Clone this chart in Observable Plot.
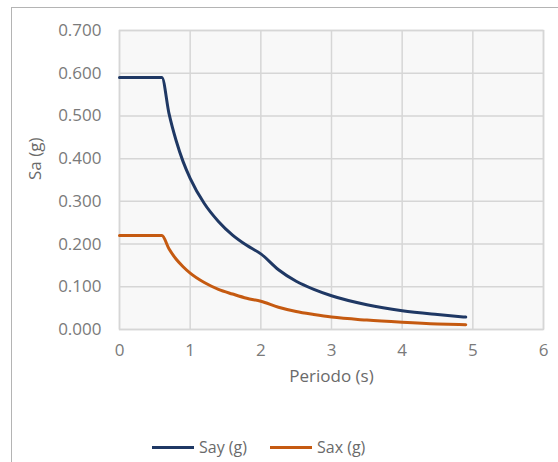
<!DOCTYPE html>
<html>
<head>
<meta charset="utf-8">
<script src="https://cdn.jsdelivr.net/npm/d3@7"></script>
<script src="https://cdn.jsdelivr.net/npm/@observablehq/plot@0.6"></script>
<style>
  html, body { margin: 0; padding: 0; background: #fff; }
  body { width: 558px; height: 462px; position: relative; overflow: hidden; font-family: "Open Sans", Lato, sans-serif; }
  #border { position: absolute; left: 11px; top: 7px; right: -2px; bottom: -2px; border-left: 1.5px solid #b4b4b4; border-top: 1.5px solid #b4b4b4; }
  #chart { position: absolute; left: 0; top: 0; }
  #legend { position: absolute; left: 152px; top: 436px; display: flex; align-items: center; font-size: 16px; color: #6a6a6a; }
  .item { display: flex; align-items: center; margin-right: 23px; }
  .swatch { width: 42px; height: 3px; margin-right: 5px; }
</style>
</head>
<body>
<div id="border"></div>
<div id="chart"></div>
<div id="legend"></div>
<script>
const periods = [0, 0.6, 0.7, 0.8, 0.9, 1.0, 1.2, 1.4, 1.6, 1.8, 2.0, 2.25, 2.5, 2.75, 3.0, 3.5, 4.0, 4.5, 4.9];
const say = [0.590, 0.590, 0.506, 0.443, 0.393, 0.354, 0.295, 0.253, 0.221, 0.197, 0.177, 0.140, 0.113, 0.094, 0.079, 0.058, 0.044, 0.035, 0.029];
const sax = [0.220, 0.220, 0.189, 0.165, 0.147, 0.132, 0.110, 0.094, 0.083, 0.073, 0.066, 0.052, 0.042, 0.035, 0.029, 0.022, 0.017, 0.013, 0.011];
const seriesNames = ["Say (g)", "Sax (g)"];
const seriesColors = ["#1f3864", "#c55a11"];
const xTicks = [0, 1, 2, 3, 4, 5, 6];
const yTicks = [0, 0.1, 0.2, 0.3, 0.4, 0.5, 0.6, 0.7];
const xTitle = "Periodo (s)";
const yTitle = "Sa (g)";

const rows = [];
periods.forEach((t, i) => {
  rows.push({T: t, Sa: say[i], s: seriesNames[0]});
  rows.push({T: t, Sa: sax[i], s: seriesNames[1]});
});

const plot = Plot.plot({
  width: 558,
  height: 410,
  marginLeft: 119,
  marginRight: 15,
  marginTop: 30,
  marginBottom: 81,
  style: {fontFamily: "'Open Sans', Lato, sans-serif", fontSize: "17px", color: "#7a7a7a", background: "transparent"},
  x: {domain: [0, 6], ticks: xTicks},
  y: {domain: [0, 0.7], ticks: yTicks},
  color: {domain: seriesNames, range: seriesColors},
  marks: [
    Plot.frame({fill: "#f8f8f8", stroke: "none"}),
    Plot.gridX(xTicks, {stroke: "#d6d6d6", strokeOpacity: 1, strokeWidth: 1.5}),
    Plot.gridY(yTicks, {stroke: "#d6d6d6", strokeOpacity: 1, strokeWidth: 1.5}),
    Plot.frame({stroke: "#d6d6d6", strokeWidth: 1.5}),
    Plot.axisX(xTicks, {tickSize: 0, tickPadding: 14, label: null, fill: "#7a7a7a", fontSize: 17}),
    Plot.axisY(yTicks, {tickSize: 0, tickPadding: 18, label: null, tickFormat: d3.format(".3f"), fill: "#7a7a7a", fontSize: 17}),
    Plot.line(rows, {x: "T", y: "Sa", stroke: "s", z: "s", strokeWidth: 3, curve: "monotone-x"}),
    Plot.text([xTitle], {frameAnchor: "bottom", dy: 52, text: d => d, fill: "#6a6a6a", fontSize: 17}),
    Plot.text([yTitle], {frameAnchor: "left", dx: -84, rotate: -90, text: d => d, fill: "#6a6a6a", fontSize: 17})
  ]
});
document.getElementById("chart").appendChild(plot);

const legend = document.getElementById("legend");
seriesNames.forEach((name, i) => {
  const item = document.createElement("div");
  item.className = "item";
  const sw = document.createElement("div");
  sw.className = "swatch";
  sw.style.background = seriesColors[i];
  const label = document.createElement("span");
  label.textContent = name;
  item.appendChild(sw);
  item.appendChild(label);
  legend.appendChild(item);
});
</script>
</body>
</html>
